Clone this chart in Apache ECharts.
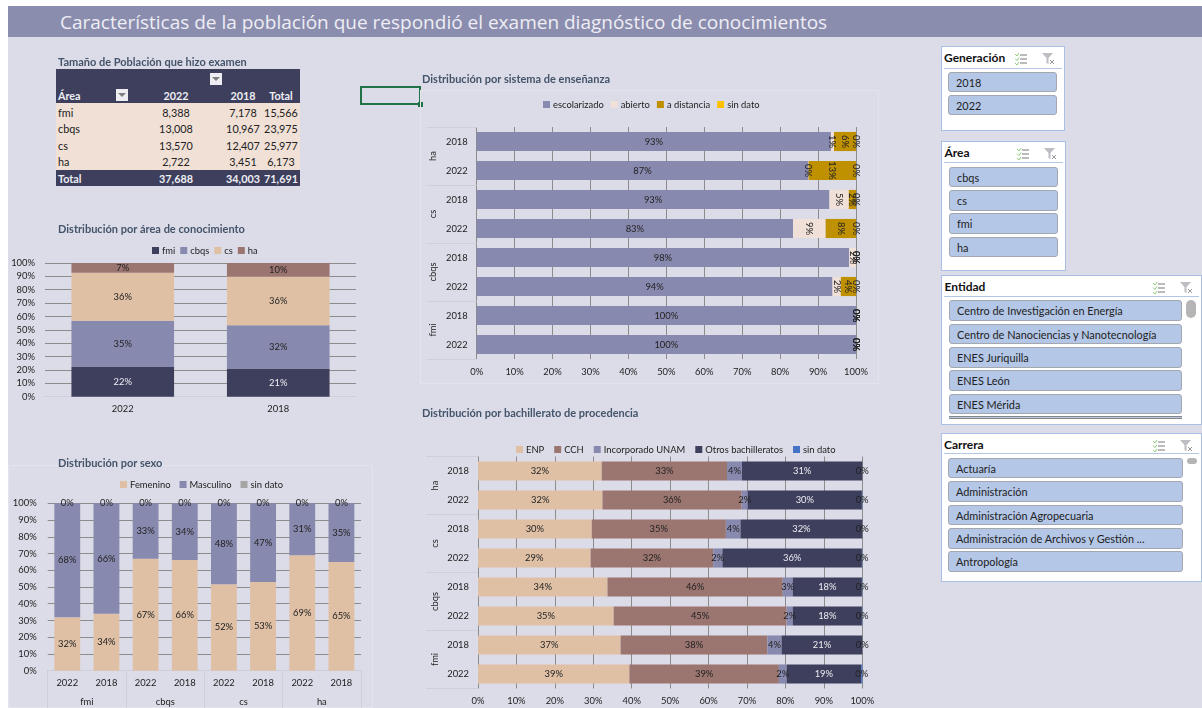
<!DOCTYPE html>
<html>
<head>
<meta charset="utf-8">
<title>Características de la población</title>
<script src="https://cdn.jsdelivr.net/npm/echarts@6/dist/echarts.min.js"></script>
<style>
html, body { margin: 0; padding: 0; background: #fff; }
body { width: 1202px; height: 708px; overflow: hidden; position: relative; font-family: Lato, sans-serif; }
#board { position: absolute; left: 8px; top: 6px; width: 1194px; height: 702px; background: #dcdce8; }
#header { position: absolute; left: 8px; top: 6px; width: 1194px; height: 31px; background: #8b8daf; color: #eeeef4;
	font: 19px/33px "Open Sans", sans-serif; text-indent: 52px; white-space: nowrap; }
#chart { position: absolute; left: 0; top: 0; width: 1202px; height: 708px; }
.abs { position: absolute; box-sizing: border-box; white-space: nowrap; }
.cell { font-size: 10.8px; line-height: 16px; color: #222; transform: translateX(-50%); }
.slicer { background: #fff; border: 1px solid #a9bfe3; }
.slicer-name { font-size: 12px; font-weight: 700; color: #111; }
.slicer-btn { background: #b4c7e7; border: 1px solid #a3a7b0; border-radius: 3px; font-size: 10.9px; line-height: 19px; color: #222; padding-left: 7px; overflow: hidden; }
.drop { width: 12px; height: 12px; background: #eeeef2; }
.drop:after { content: ''; position: absolute; left: 2px; top: 4px; border: 4px solid transparent; border-top: 4px solid #7f7f7f; }
</style>
</head>
<body>
<div id="board"></div>
<div id="header">Características de la población que respondió el examen diagnóstico de conocimientos</div>
<div id="static"></div>
<div id="chart"></div>
<script>
// tabla de población
const tableAreas = ['fmi', 'cbqs', 'cs', 'ha', 'Total']
const table2022 = [8388, 13008, 13570, 2722, 37688]
const table2018 = [7178, 10967, 12407, 3451, 34003]
const tableTotal = [15566, 23975, 25977, 6173, 71691]

// filtros
const generaciones = ['2018', '2022']
const areas = ['cbqs', 'cs', 'fmi', 'ha']
const entidades = ['Centro de Investigación en Energía', 'Centro de Nanociencias y Nanotecnología', 'ENES Juriquilla', 'ENES León', 'ENES Mérida']
const carreras = ['Actuaría', 'Administración', 'Administración Agropecuaria', 'Administración de Archivos y Gestión ...', 'Antropología']

const pctTicks = [0, 100]

// Distribución por área de conocimiento
const areaYears = ['2022', '2018']
const areaFmi = [22.26, 21.11]
const areaCbqs = [34.51, 32.25]
const areaCs = [36.01, 36.49]
const areaHa = [7.22, 10.15]

// Distribución por sexo
const sexoYears = ['2022', '2018', '2022', '2018', '2022', '2018', '2022', '2018']
const sexoGroups = ['fmi', 'cbqs', 'cs', 'ha']
const sexoFem = [32, 34, 66.9, 66.2, 51.7, 53, 68.9, 65]
const sexoMas = [68, 66, 33.1, 33.8, 48.3, 47, 31.1, 35]
const sexoSin = [0, 0, 0, 0, 0, 0, 0, 0]

// filas de abajo hacia arriba
const rowYears = ['2022', '2018', '2022', '2018', '2022', '2018', '2022', '2018']
const rowGroups = ['fmi', 'cbqs', 'cs', 'ha']

// Distribución por sistema de enseñanza
const sisEscolar = [100, 100, 93.8, 98.2, 83.4, 93.0, 87.4, 93.4]
const sisAbierto = [0, 0, 2.2, 1.8, 8.6, 5.1, 0.1, 0.8]
const sisDistancia = [0, 0, 4.0, 0, 8.0, 1.9, 12.5, 5.8]
const sisSin = [0, 0, 0, 0, 0, 0, 0, 0]

// Distribución por bachillerato de procedencia
const bachEnp = [39.4, 37.1, 35.3, 33.7, 29.3, 29.6, 32.4, 32.2]
const bachCch = [38.9, 38.2, 45, 45.6, 31.9, 34.9, 36.2, 32.6]
const bachInc = [2.0, 3.7, 1.6, 2.6, 2.4, 3.8, 1.6, 3.9]
const bachOtros = [19.4, 21.0, 18.0, 18.0, 36.3, 31.7, 29.7, 31.3]
const bachSin = [0.3, 0, 0.1, 0.1, 0.1, 0, 0.1, 0]

const DARK = '#3d3f5c', BLUE = '#8889ae', SAND = '#dfc0a5', BROWN = '#9b7570'
const TEXT = '#222', LINE = '#8c8c8c', FAINT = '#cfcfdc'
const FONT = 'Lato', FONT_SIZE = 9.4

const host = document.getElementById('static')
function box(cls, left, top, width, height, text, css) {
	const el = document.createElement('div')
	el.className = 'abs ' + cls
	el.style.left = left + 'px'
	el.style.top = top + 'px'
	if (width) el.style.width = width + 'px'
	if (height) el.style.height = height + 'px'
	if (text) el.textContent = text
	if (css) el.style.cssText += css
	host.appendChild(el)
	return el
}

// tabla dinámica
box('', 55.5, 69, 244.5, 34, '', 'background:' + DARK)
box('', 55.5, 103, 244.5, 67, '', 'background:#f0e0d6')
box('', 55.5, 170, 244.5, 16, '', 'background:' + DARK)
box('drop', 210, 73)
box('drop', 115.5, 89)
const headCss = 'font-weight:700;color:#eeeef4;'
box('', 58, 88, 0, 0, 'Área', 'font-size:10.8px;line-height:16px;' + headCss)
;[[176, '2022'], [243, '2018'], [281, 'Total']].forEach(h => box('cell', h[0], 88, 0, 0, h[1], headCss))
tableAreas.forEach((name, i) => {
	const y = 104.5 + i * 16.6
	const css = i === 4 ? headCss : ''
	box('', 58, y, 0, 0, name, 'font-size:10.8px;line-height:16px;color:#222;' + css)
	box('cell', 176, y, 0, 0, table2022[i].toLocaleString('en-US'), css)
	box('cell', 243, y, 0, 0, table2018[i].toLocaleString('en-US'), css)
	box('cell', 281, y, 0, 0, tableTotal[i].toLocaleString('en-US'), css)
})

// celda seleccionada y marcos
box('', 359.5, 86, 61, 18.5, '', 'border:2px solid #217346')
box('', 418, 101.5, 5, 5, '', 'background:#217346')
box('', 420, 90, 459, 294, '', 'border:1px solid #e3e3ec')
box('', 8, 465, 365, 243, '', 'border:1px solid #e3e3ec')

function slicerIcons(right, y) {
	const svg = '<svg width="48" height="14" xmlns="http://www.w3.org/2000/svg">' +
		'<path d="M1 2l2 2 2-3M1 6.500l2 2 2-3M1 11l2 2 2-3" stroke="#8ecb7a" fill="none"/>' +
		'<path d="M6 3h7M6 7h7M6 11h7" stroke="#777" fill="none"/>' +
		'<path d="M28 1h11l-4.500 5v6l-2-1v-5z" fill="#bdbdc4"/><path d="M36 8l4 4m0-4l-4 4" stroke="#999" fill="none"/>' +
		'</svg>'
	box('', right - 48, y, 48, 14).innerHTML = svg
}
function slicer(name, left, top, width, height, ruleY, btnLeft, btnWidth, btnTops, labels, iconRight) {
	box('slicer', left, top, width, height)
	box('slicer-name', left + 3.5, top + 4, 0, 0, name)
	box('', left + 3, ruleY, width - 6, 1, '', 'background:#b4c7e7')
	slicerIcons(iconRight, top + 4)
	labels.forEach((label, i) => box('slicer-btn', btnLeft, btnTops[i], btnWidth, 20.5, label))
}
slicer('Generación', 940.5, 46, 124, 85, 68, 948, 109, [71.5, 94.5], generaciones, 1062)
slicer('Área', 941, 141, 125, 130, 162, 949, 109, [166.5, 190, 213, 236.5], areas, 1064)
slicer('Entidad', 941, 275, 261, 150, 296, 949, 233, [300, 323.5, 347, 370, 393.5], entidades, 1200)
box('', 949, 416, 233, 3, '', 'border-top:1px solid #888;border-bottom:1px solid #888;background:#b4c7e7')
box('', 1186, 300, 10, 18, '', 'background:#b5b5b8;border-radius:5px')
slicer('Carrera', 940.5, 432.5, 261.5, 149, 453, 948, 235, [457.5, 481, 504.5, 528, 551], carreras, 1200)
box('', 1187, 458, 10, 6, '', 'background:#b5b5b8;border-radius:5px')

// serie apilada con etiqueta en %
function stack(name, data, color, xIdx, yIdx, labelColor, rotate) {
	return {
		name: name,
		type: 'bar',
		stack: 'g' + xIdx + yIdx,
		data: data,
		xAxisIndex: xIdx,
		yAxisIndex: yIdx,
		barWidth: '66%',
		itemStyle: { color: color },
		label: {
			show: true,
			position: 'inside',
			color: labelColor || TEXT,
			rotate: rotate || 0,
			fontFamily: FONT,
			fontSize: FONT_SIZE,
			formatter: p => Math.round(p.value) + '%'
		}
	}
}
function legendOf(names, colors, left, top, gap) {
	return {
		left: left,
		top: top,
		padding: 0,
		itemWidth: 7,
		itemHeight: 7,
		itemGap: gap,
		icon: 'rect',
		selectedMode: false,
		textStyle: { color: TEXT, fontFamily: FONT, fontSize: FONT_SIZE, padding: [0, 0, 0, -2] },
		data: names.map((n, i) => ({ name: n, itemStyle: { color: colors[i] } }))
	}
}
function titleOf(text, left, top) {
	return { text: text, left: left, top: top, padding: 0, textStyle: { color: '#44546a', fontFamily: FONT, fontWeight: 'bold', fontSize: 11 } }
}
const axisText = { color: TEXT, fontFamily: FONT, fontSize: FONT_SIZE }
function pctAxis(gridIndex, position, margin) {
	return {
		type: 'value', gridIndex: gridIndex, position: position,
		min: pctTicks[0], max: pctTicks[1], interval: 10,
		axisLine: { show: false },
		axisTick: { show: false },
		axisLabel: Object.assign({ formatter: '{value}%', margin: margin }, axisText),
		splitLine: { lineStyle: { color: LINE } }
	}
}
function catAxis(gridIndex, position, data, margin) {
	return {
		type: 'category', gridIndex: gridIndex, position: position, data: data,
		axisLine: { show: true, lineStyle: { color: FAINT } },
		axisTick: { show: false },
		axisLabel: Object.assign({ margin: margin, interval: 0 }, axisText)
	}
}
function groupAxis(gridIndex, position, data, tick, margin, rotate) {
	return {
		type: 'category', gridIndex: gridIndex, position: position, data: data,
		axisLine: { show: false },
		axisTick: { show: true, length: tick, lineStyle: { color: FAINT } },
		axisLabel: Object.assign({ margin: margin, interval: 0, rotate: rotate }, axisText)
	}
}

const H = 708, W = 1202
const chart = echarts.init(document.getElementById('chart'))
chart.setOption({
	animation: false,
	title: [
		titleOf('Tamaño de Población que hizo examen', 58, 57),
		titleOf('Distribución por área de conocimiento', 58, 224),
		titleOf('Distribución por sexo', 58, 458),
		titleOf('Distribución por sistema de enseñanza', 422, 74),
		titleOf('Distribución por bachillerato de procedencia', 422, 408)
	],
	legend: [
		legendOf(['fmi', 'cbqs', 'cs', 'ha'], [DARK, BLUE, SAND, BROWN], 152, 246, 5),
		legendOf(['Femenino', 'Masculino', 'sin dato'], [SAND, BLUE, '#a5a5a5'], 120, 480, 9),
		legendOf(['escolarizado', 'abierto', 'a distancia', 'sin dato'], [BLUE, '#f0e0d8', '#bf9000', '#ffc000'], 543, 100, 7),
		legendOf(['ENP', 'CCH', 'Incorporado UNAM', 'Otros bachilleratos', 'sin dato'], [SAND, BROWN, BLUE, DARK, '#4472c4'], 516, 445, 10)
	],
	grid: [
		{ left: 45, right: W - 356, top: 263, bottom: H - 396.7 },
		{ left: 47.7, right: W - 361, top: 503.3, bottom: H - 670.7 },
		{ left: 476.7, right: W - 856, top: 127, bottom: H - 359 },
		{ left: 478, right: W - 862.3, top: 456.5, bottom: H - 688.5 }
	],
	xAxis: [
		catAxis(0, 'bottom', areaYears, 8),
		catAxis(1, 'bottom', sexoYears, 8),
		groupAxis(1, 'bottom', sexoGroups, 38, 27, 0),
		pctAxis(2, 'bottom', 8),
		pctAxis(3, 'bottom', 8)
	],
	yAxis: [
		pctAxis(0, 'left', 10),
		pctAxis(1, 'left', 11),
		Object.assign(catAxis(2, 'left', rowYears, 9), { axisLine: { show: false } }),
		groupAxis(2, 'left', rowGroups, 50, 39, 90),
		Object.assign(catAxis(3, 'left', rowYears, 9), { axisLine: { show: false } }),
		groupAxis(3, 'left', rowGroups, 52, 39, 90)
	],
	series: [
		stack('fmi', areaFmi, DARK, 0, 0, '#eeeef4'),
		stack('cbqs', areaCbqs, BLUE, 0, 0),
		stack('cs', areaCs, SAND, 0, 0),
		stack('ha', areaHa, BROWN, 0, 0),

		stack('Femenino', sexoFem, SAND, 1, 1),
		stack('Masculino', sexoMas, BLUE, 1, 1),
		stack('sin dato', sexoSin, '#a5a5a5', 1, 1),

		stack('escolarizado', sisEscolar, BLUE, 3, 2),
		stack('abierto', sisAbierto, '#f0e0d8', 3, 2, TEXT, -90),
		stack('a distancia', sisDistancia, '#bf9000', 3, 2, TEXT, -90),
		stack('sin dato', sisSin, '#ffc000', 3, 2, TEXT, -90),

		stack('ENP', bachEnp, SAND, 4, 4),
		stack('CCH', bachCch, BROWN, 4, 4),
		stack('Incorporado UNAM', bachInc, BLUE, 4, 4),
		stack('Otros bachilleratos', bachOtros, DARK, 4, 4, '#eeeef4'),
		stack('sin dato', bachSin, '#4472c4', 4, 4)
	]
})
</script>
</body>
</html>
